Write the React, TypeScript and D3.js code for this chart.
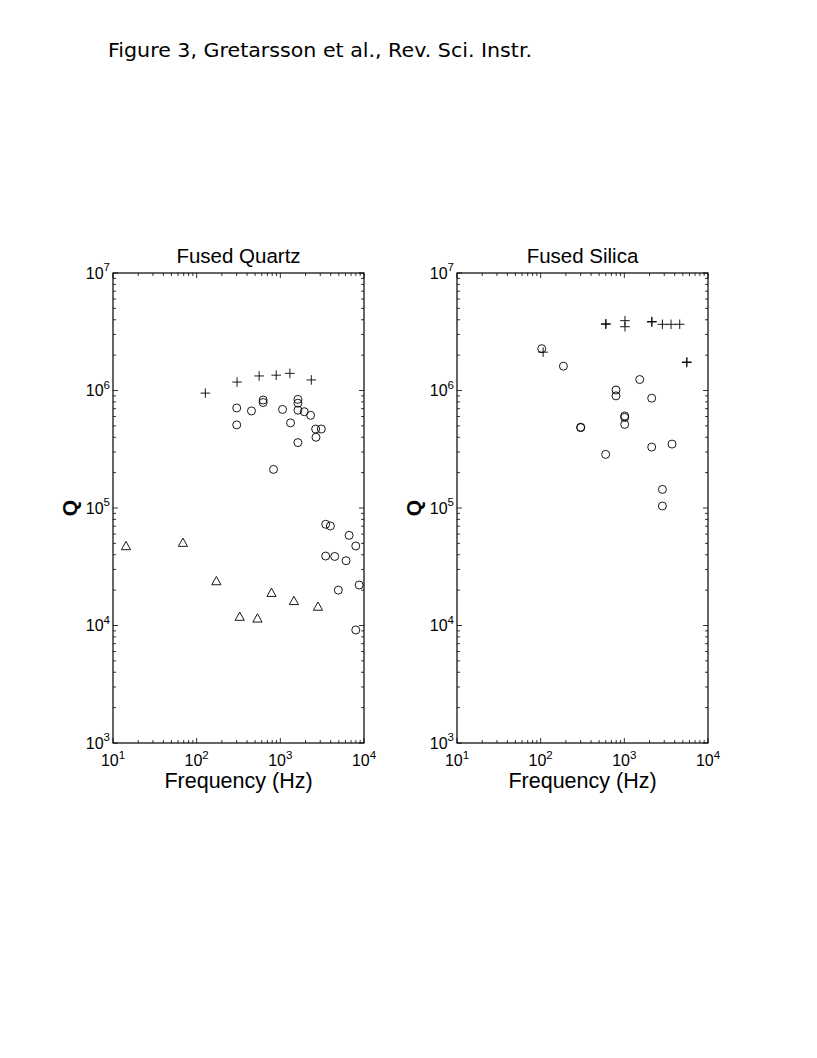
import React from "react";
import * as d3 from "d3";

// Fused quartz, plus signs
const quartzCrossF = [127, 304, 558, 893, 1300, 2345];
const quartzCrossQ = [9.5e5, 1.18e6, 1.33e6, 1.35e6, 1.4e6, 1.23e6];

// Fused quartz, circles
const quartzCircleF = [
  301, 301, 452, 623, 623, 1062, 1325, 1622, 1622, 1622, 1932, 2301, 1622, 2643, 3090, 2667, 829,
  3483, 3963, 6637, 7975, 3483, 4467, 6105, 4932, 8750, 7975,
];
const quartzCircleQ = [
  7.1e5, 5.1e5, 6.7e5, 8.3e5, 7.9e5, 6.9e5, 5.3e5, 8.4e5, 7.8e5, 6.8e5, 6.6e5, 6.15e5, 3.6e5, 4.7e5, 4.7e5, 4.0e5, 2.13e5,
  7.27e4, 7.03e4, 5.85e4, 4.75e4, 3.9e4, 3.87e4, 3.56e4, 2.0e4, 2.21e4, 9.16e3,
];

// Fused quartz, triangles
const quartzTriF = [14.3, 68.5, 172, 327, 533, 784, 1453, 2818];
const quartzTriQ = [4.75e4, 5.07e4, 2.39e4, 1.19e4, 1.15e4, 1.9e4, 1.62e4, 1.45e4];

// Fused silica, plus signs
const silicaCrossF = [107, 598, 605, 1018, 1018, 2123, 2140, 2851, 3614, 4592, 5562, 5600];
const silicaCrossQ = [2.12e6, 3.66e6, 3.7e6, 3.93e6, 3.49e6, 3.83e6, 3.86e6, 3.66e6, 3.66e6, 3.66e6, 1.73e6, 1.75e6];

// Fused silica, circles
const silicaCircleF = [103, 187, 1527, 795, 795, 2123, 1010, 1010, 1010, 301, 301, 598, 2123, 3715, 2851, 2851];
const silicaCircleQ = [
  2.27e6, 1.61e6, 1.24e6, 1.01e6, 9.0e5, 8.6e5, 6.07e5, 5.9e5, 5.15e5, 4.83e5, 4.87e5, 2.86e5, 3.3e5, 3.5e5, 1.44e5, 1.04e5,
];

const xDomain = [10, 1e4];
const yDomain = [1e3, 1e7];
const xMajor = [10, 100, 1000, 10000];
const yMajor = [1e3, 1e4, 1e5, 1e6, 1e7];

const font = "'Liberation Sans', Arial, Helvetica, sans-serif";

type Series = { f: number[]; q: number[]; marker: "circle" | "cross" | "triangle" };

function Marker({ kind, x, y }: { kind: string; x: number; y: number }) {
  const s = { fill: "none", stroke: "#000", strokeWidth: 0.9 };
  if (kind === "circle") return <circle cx={x} cy={y} r={4} {...s} />;
  if (kind === "cross")
    return <path d={`M${x - 4.8},${y}H${x + 4.8}M${x},${y - 4.8}V${y + 4.8}`} {...s} />;
  return <path d={`M${x},${y - 4.6}L${x + 4.6},${y + 3.7}L${x - 4.6},${y + 3.7}Z`} {...s} />;
}

function Panel({ left, title, series }: { left: number; title: string; series: Series[] }) {
  const top = 273;
  const bottom = 743;
  const right = left + 251;
  const x = d3.scaleLog().domain(xDomain).range([left, right]);
  const y = d3.scaleLog().domain(yDomain).range([bottom, top]);
  const isMajor = (v: number) => Math.abs(Math.log10(v) - Math.round(Math.log10(v))) < 1e-9;

  return (
    <g>
      <text x={(left + right) / 2} y={263} textAnchor="middle" fontFamily={font} fontSize={20.5}>
        {title}
      </text>
      <rect x={left} y={top} width={right - left} height={bottom - top} fill="none" stroke="#000" strokeWidth={1.2} />
      {x.ticks().map((t, i) => {
        const len = isMajor(t) ? 5 : 3;
        return (
          <g key={"xt" + i} stroke="#000" strokeWidth={0.8}>
            <line x1={x(t)} x2={x(t)} y1={bottom} y2={bottom - len} />
            <line x1={x(t)} x2={x(t)} y1={top} y2={top + len} />
          </g>
        );
      })}
      {y.ticks().map((t, i) => {
        const len = isMajor(t) ? 5 : 3;
        return (
          <g key={"yt" + i} stroke="#000" strokeWidth={0.8}>
            <line x1={left} x2={left + len} y1={y(t)} y2={y(t)} />
            <line x1={right} x2={right - len} y1={y(t)} y2={y(t)} />
          </g>
        );
      })}
      {xMajor.map((t) => (
        <text key={"xl" + t} x={x(t)} y={766} textAnchor="middle" fontFamily={font} fontSize={16}>
          10<tspan fontSize={11.5} dy={-7.5}>{Math.round(Math.log10(t))}</tspan>
        </text>
      ))}
      {yMajor.map((t) => (
        <text key={"yl" + t} x={left - 3} y={y(t) + 5.8} textAnchor="end" fontFamily={font} fontSize={16}>
          10<tspan fontSize={11.5} dy={-7.5}>{Math.round(Math.log10(t))}</tspan>
        </text>
      ))}
      <text x={(left + right) / 2} y={788} textAnchor="middle" fontFamily={font} fontSize={21.5}>
        Frequency (Hz)
      </text>
      <text
        transform={`translate(${left - 36},${(top + bottom) / 2}) rotate(-90)`}
        textAnchor="middle"
        fontFamily={font}
        fontSize={21}
        fontWeight="bold"
      >
        Q
      </text>
      {series.map((s, si) =>
        s.f.map((f, i) => <Marker key={si + "-" + i} kind={s.marker} x={x(f)} y={y(s.q[i])} />)
      )}
    </g>
  );
}

export default function App() {
  return (
    <svg
      width={817}
      height={1058}
      style={{ position: "absolute", left: 0, top: 0, background: "#fff" }}
    >
      <rect width={817} height={1058} fill="#fff" />
      <text x={108} y={57} fontFamily="'DejaVu Sans', sans-serif" fontSize={20} textLength={424} lengthAdjust="spacingAndGlyphs">
        Figure 3, Gretarsson et al., Rev. Sci. Instr.
      </text>
      <Panel
        left={113}
        title="Fused Quartz"
        series={[
          { f: quartzCrossF, q: quartzCrossQ, marker: "cross" },
          { f: quartzCircleF, q: quartzCircleQ, marker: "circle" },
          { f: quartzTriF, q: quartzTriQ, marker: "triangle" },
        ]}
      />
      <Panel
        left={457}
        title="Fused Silica"
        series={[
          { f: silicaCrossF, q: silicaCrossQ, marker: "cross" },
          { f: silicaCircleF, q: silicaCircleQ, marker: "circle" },
        ]}
      />
    </svg>
  );
}
